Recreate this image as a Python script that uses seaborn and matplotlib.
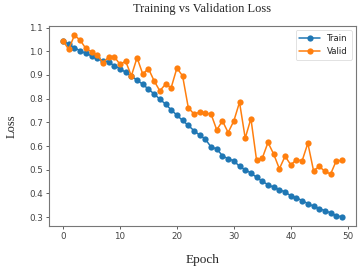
import matplotlib
matplotlib.use("Agg")
import matplotlib.pyplot as plt
import seaborn as sns
import pandas as pd

epochs = list(range(50))
train_loss = [1.045, 1.030, 1.015, 1.002, 0.991, 0.981, 0.970, 0.960, 0.955, 0.939,
              0.927, 0.911, 0.895, 0.878, 0.861, 0.840, 0.820, 0.798, 0.777, 0.753,
              0.730, 0.708, 0.687, 0.665, 0.646, 0.629, 0.596, 0.588, 0.559, 0.546,
              0.538, 0.514, 0.500, 0.486, 0.468, 0.451, 0.437, 0.426, 0.416, 0.406,
              0.390, 0.381, 0.370, 0.357, 0.346, 0.336, 0.327, 0.318, 0.306, 0.301]
valid_loss = [1.044, 1.008, 1.068, 1.047, 1.012, 0.998, 0.984, 0.952, 0.975, 0.977,
              0.945, 0.958, 0.896, 0.973, 0.904, 0.927, 0.875, 0.833, 0.861, 0.847,
              0.929, 0.896, 0.762, 0.735, 0.743, 0.739, 0.735, 0.668, 0.706, 0.657,
              0.706, 0.785, 0.633, 0.716, 0.539, 0.549, 0.615, 0.566, 0.504, 0.557,
              0.521, 0.542, 0.538, 0.612, 0.496, 0.514, 0.493, 0.482, 0.538, 0.539]

df = pd.DataFrame({
    'Epoch': epochs * 2,
    'Loss': train_loss + valid_loss,
    'Set': ['Train'] * 50 + ['Valid'] * 50,
})

sns.set_theme(style="ticks")
plt.rcParams['font.family'] = ['DejaVu Sans']

fig = plt.figure(figsize=(3.61, 2.69), dpi=100)
ax = fig.add_axes([0.136, 0.160, 0.850, 0.743])

sns.lineplot(
    data=df, x='Epoch', y='Loss', hue='Set',
    palette=['#1f77b4', '#ff7f0e'],
    marker='o', markersize=4.5, markeredgewidth=0,
    linewidth=1.1, ax=ax
)

# serif title / labels like the original notebook
serif = ['Liberation Serif', 'DejaVu Serif']
ax.set_title('Training vs Validation Loss', fontsize=9, family=serif, pad=10)
ax.set_xlabel('Epoch', fontsize=9.5, family=serif, labelpad=9)
ax.set_ylabel('Loss', fontsize=9, family=serif, labelpad=8)

ax.set_xticks(range(0, 51, 10))
ax.set_yticks([0.3, 0.4, 0.5, 0.6, 0.7, 0.8, 0.9, 1.0, 1.1])
ax.tick_params(labelsize=6.3, length=2.5, width=0.6, colors='#444444', pad=2)
for sp in ax.spines.values():
    sp.set_color('#777777')
    sp.set_linewidth(0.8)

leg = ax.legend(loc='upper right', fontsize=6.2, frameon=True, handlelength=2.4,
                borderpad=0.45, labelspacing=0.45)
leg.get_frame().set_linewidth(0.5)
leg.get_frame().set_edgecolor('#cccccc')

plt.savefig('out.png', dpi=100)
plt.close()
